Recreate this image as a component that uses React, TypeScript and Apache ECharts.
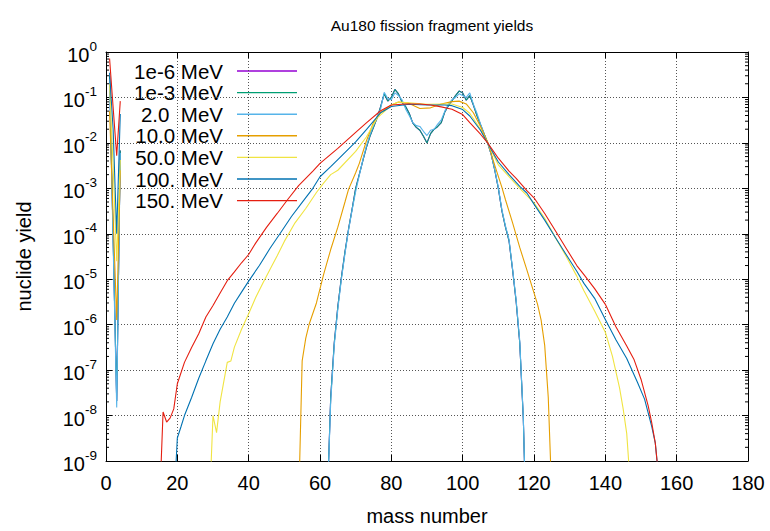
import React, { useEffect, useRef } from 'react';
import * as echarts from 'echarts';

const FONT = "'Liberation Sans', Arial, Helvetica, sans-serif";

const titleText = 'Au180 fission fragment yields';
const xName = 'mass number';
const yName = 'nuclide yield';
const legendNames = ['1e-6 MeV', '1e-3 MeV', '2.0  MeV', '10.0 MeV', '50.0 MeV', '100. MeV', '150. MeV'];
const colors = ['#9400d3', '#009e73', '#56b4e9', '#e69f00', '#f0e442', '#0072b2', '#e51e10'];

// light-particle part (A = 1..4) of each curve
const light1em3 = [[1, 0.3], [2, 8e-5], [3, 2.1e-8], [4, 6.8e-3]];
const light2 = [[1, 0.25], [2, 6e-5], [3, 1.5e-8], [4, 6e-3]];
const light10 = [[1, 0.05], [2, 2.5e-4], [3, 1.26e-6], [4, 2.5e-3]];
const light50 = [[1, 0.2], [2, 3e-3], [3, 2.5e-5], [4, 4.2e-3]];
const light100 = [[1, 0.35], [2, 0.02], [3, 1e-4], [4, 0.043]];
const light150 = [[1, 0.72], [2, 0.06], [3, 5.2e-3], [4, 0.083]];

// fission-fragment part of each curve
const frag1em3 = [[62, 1e-10], [63, 2.5e-8], [64, 4e-7], [65, 2.5e-6], [66, 1.1e-5], [67, 4e-5], [68, 1.26e-4], [69, 3.5e-4], [70, 1e-3], [71, 2e-3], [72, 4e-3], [73, 7.9e-3], [74, 0.014], [75, 0.022], [76, 0.035], [77, 0.063], [78, 0.12], [79, 0.083], [80, 0.1], [81, 0.15], [82, 0.12], [83, 0.079], [84, 0.063], [85, 0.045], [86, 0.0275], [87, 0.022], [88, 0.019], [89, 0.014], [90, 0.01], [91, 0.016], [92, 0.02], [93, 0.023], [94, 0.028], [95, 0.048], [96, 0.066], [97, 0.085], [98, 0.11], [99, 0.138], [100, 0.126], [101, 0.087], [102, 0.11], [103, 0.068], [104, 0.04], [105, 0.025], [106, 0.016], [107, 0.01], [108, 5.6e-3], [109, 2.5e-3], [110, 1e-3], [111, 3.2e-4], [112, 1.4e-4], [113, 7e-5], [114, 1.6e-5], [115, 3.2e-6], [116, 4e-7], [117, 8.7e-9], [118, 1e-11]];
const frag2 = [[62, 1e-10], [63, 2e-8], [64, 3.5e-7], [65, 2.2e-6], [66, 1e-5], [67, 3.6e-5], [68, 1.2e-4], [69, 3.3e-4], [70, 8.5e-4], [71, 1.9e-3], [72, 4.2e-3], [73, 8.5e-3], [74, 0.015], [75, 0.024], [76, 0.038], [77, 0.056], [78, 0.13], [79, 0.095], [80, 0.089], [81, 0.126], [82, 0.11], [83, 0.089], [84, 0.056], [85, 0.04], [86, 0.028], [87, 0.024], [88, 0.023], [89, 0.018], [90, 0.0145], [91, 0.019], [92, 0.02], [93, 0.026], [94, 0.032], [95, 0.05], [96, 0.071], [97, 0.089], [98, 0.1], [99, 0.12], [100, 0.11], [101, 0.1], [102, 0.126], [103, 0.071], [104, 0.045], [105, 0.026], [106, 0.016], [107, 0.01], [108, 5.6e-3], [109, 2.6e-3], [110, 1.05e-3], [111, 3.4e-4], [112, 1.5e-4], [113, 7.5e-5], [114, 1.7e-5], [115, 3.5e-6], [116, 4.5e-7], [117, 9.5e-9], [118, 1e-11]];
const frag10 = [[54, 1e-10], [55, 1.6e-7], [56, 5e-7], [57, 1.05e-6], [59, 3e-6], [61, 1.26e-5], [63, 4.5e-5], [65, 1.4e-4], [67, 5e-4], [68, 9.5e-4], [70, 2.2e-3], [71, 3.5e-3], [73, 0.011], [75, 0.028], [77, 0.047], [80, 0.068], [82, 0.079], [85, 0.074], [88, 0.057], [91, 0.059], [94, 0.072], [97, 0.081], [99, 0.083], [101, 0.072], [103, 0.046], [105, 0.023], [107, 0.0105], [109, 3.2e-3], [111, 1.05e-3], [112, 5.6e-4], [114, 1.74e-4], [116, 5e-5], [118, 1.6e-5], [120, 5e-6], [121, 2.8e-6], [122, 1.26e-6], [123, 3.5e-7], [124, 2.5e-8], [125, 1.6e-10]];
const frag50 = [[29, 1e-10], [30, 1e-8], [31, 4.2e-9], [32, 2e-8], [34, 1.48e-7], [35, 1.58e-7], [36, 3.2e-7], [38, 7.9e-7], [40, 1.74e-6], [42, 4e-6], [44, 8.3e-6], [46, 1.66e-5], [48, 3.3e-5], [50, 6.8e-5], [53, 1.74e-4], [56, 3.6e-4], [59, 8.1e-4], [61, 1.3e-3], [63, 2e-3], [65, 2.5e-3], [70, 6.5e-3], [73, 0.0135], [76, 0.035], [80, 0.068], [82, 0.079], [85, 0.076], [90, 0.071], [95, 0.072], [97, 0.072], [100, 0.06], [102, 0.045], [105, 0.02], [107, 9.8e-3], [110, 3.3e-3], [113, 1.8e-3], [116, 1e-3], [120, 4.8e-4], [123, 2.2e-4], [126, 8.3e-5], [129, 3.2e-5], [132, 1.17e-5], [134, 5.6e-6], [137, 2e-6], [140, 6.8e-7], [142, 2e-7], [144, 4e-8], [145, 1.4e-8], [146, 4e-9], [147, 3e-10]];
const frag100 = [[19, 1e-10], [20, 3.2e-9], [21, 5.6e-9], [22, 1e-8], [24, 2.5e-8], [26, 6.6e-8], [28, 1.6e-7], [30, 3.8e-7], [32, 7.9e-7], [34, 1.48e-6], [36, 2.95e-6], [38, 5.2e-6], [40, 9.1e-6], [43, 2e-5], [46, 4.8e-5], [49, 1.07e-4], [52, 2.4e-4], [55, 4.9e-4], [58, 1e-3], [60, 1.8e-3], [63, 3e-3], [65, 4.3e-3], [70, 0.0105], [73, 0.0195], [77, 0.046], [80, 0.063], [85, 0.071], [90, 0.068], [95, 0.068], [97, 0.066], [100, 0.054], [102, 0.039], [105, 0.019], [107, 9.8e-3], [110, 3.8e-3], [113, 2e-3], [116, 1.1e-3], [118, 7.9e-4], [120, 4.5e-4], [123, 2e-4], [126, 8.3e-5], [129, 3.5e-5], [132, 1.5e-5], [134, 8.1e-6], [137, 3.8e-6], [140, 1.3e-6], [143, 4.6e-7], [146, 1.8e-7], [149, 5.4e-8], [151, 2.3e-8], [153, 5.8e-9], [154, 2.5e-9], [155, 4e-10]];
const frag150 = [[15, 1e-10], [16, 1.2e-8], [17, 7.2e-9], [18, 8.9e-9], [19, 1.4e-8], [20, 5e-8], [22, 1.48e-7], [24, 3.16e-7], [26, 6.3e-7], [28, 1.48e-6], [30, 2.63e-6], [32, 5e-6], [34, 9.3e-6], [36, 1.45e-5], [38, 2.3e-5], [40, 3.5e-5], [42, 6.3e-5], [45, 1.38e-4], [48, 2.8e-4], [51, 5.75e-4], [54, 1.15e-3], [58, 2.4e-3], [60, 3.55e-3], [65, 7.6e-3], [70, 0.017], [73, 0.0275], [77, 0.051], [80, 0.068], [84, 0.072], [88, 0.072], [91, 0.068], [94, 0.062], [97, 0.055], [100, 0.042], [102, 0.028], [105, 0.0155], [107, 0.01], [110, 4.6e-3], [113, 2.4e-3], [115, 1.66e-3], [118, 8.9e-4], [120, 6.2e-4], [123, 2.8e-4], [126, 1.17e-4], [129, 4.8e-5], [132, 2e-5], [134, 1.26e-5], [137, 6.2e-6], [140, 2.8e-6], [143, 8.9e-7], [146, 3.4e-7], [148, 1.74e-7], [150, 6.3e-8], [152, 1.66e-8], [153, 7e-9], [154, 2.5e-9], [155, 4e-10]];

// the 1e-6 MeV curve coincides with the 1e-3 MeV curve in the picture
const light1em6 = light1em3;
const frag1em6 = frag1em3;

const lightParts = [light1em6, light1em3, light2, light10, light50, light100, light150];
const fragParts = [frag1em6, frag1em3, frag2, frag10, frag50, frag100, frag150];

const X_MIN = 0, X_MAX = 180, X_STEP = 20;
const Y_MIN = 1e-9, Y_MAX = 1;

export default function App() {
  const ref = useRef<HTMLDivElement>(null);
  useEffect(() => {
    document.body.style.margin = '0';
    const chart = echarts.init(ref.current!, undefined, { renderer: 'svg' });

    const minorTicks: number[][] = [];
    for (let d = -9; d < 0; d++) for (let k = 2; k <= 9; k++) minorTicks.push([0, k * Math.pow(10, d)]);

    const lineSeries = legendNames.map((name, i) => ({
      type: 'line',
      name,
      data: [...lightParts[i], [5, null], ...fragParts[i]],
      showSymbol: false,
      symbol: 'none',
      connectNulls: false,
      clip: true,
      lineStyle: { color: colors[i], width: 1.1 },
      itemStyle: { color: colors[i] },
      z: 3 + i,
    }));

    const legendGraphic = legendNames.map((name, i) => ({
      type: 'group',
      children: [
        {
          type: 'text', x: 223, y: 71 + 21.6 * i,
          style: { text: name, align: 'right', verticalAlign: 'middle', fontSize: 20.5, fontFamily: FONT, fill: '#000' },
        },
        {
          type: 'line', shape: { x1: 237, y1: 71 + 21.6 * i, x2: 297, y2: 71 + 21.6 * i },
          style: { stroke: colors[i], lineWidth: 1.4 },
        },
      ],
    }));

    chart.setOption({
      animation: false,
      backgroundColor: '#fff',
      title: {
        text: titleText, left: 427, top: 12, textAlign: 'center',
        textStyle: { fontSize: 15.5, fontWeight: 'normal', color: '#000', fontFamily: FONT },
      },
      grid: { left: 106, right: 22, top: 52, bottom: 64.5, containLabel: false },
      xAxis: [
        {
          type: 'value', min: X_MIN, max: X_MAX, interval: X_STEP,
          name: xName, nameLocation: 'middle', nameGap: 45,
          nameTextStyle: { fontSize: 20, color: '#000', fontFamily: FONT },
          axisLine: { show: true, onZero: false, lineStyle: { color: '#000', width: 1 } },
          axisTick: { show: true, inside: true, length: 6, lineStyle: { color: '#000' } },
          axisLabel: { fontSize: 20, color: '#000', fontFamily: FONT, margin: 12 },
          splitLine: { show: true, lineStyle: { color: '#555', type: [1, 2], width: 1 } },
        },
        {
          type: 'value', min: X_MIN, max: X_MAX, interval: X_STEP, position: 'top',
          axisLine: { show: true, onZero: false, lineStyle: { color: '#000', width: 1 } },
          axisTick: { show: true, inside: true, length: 6, lineStyle: { color: '#000' } },
          axisLabel: { show: false }, splitLine: { show: false },
        },
      ],
      yAxis: [
        {
          type: 'log', logBase: 10, min: Y_MIN, max: Y_MAX, splitNumber: 9,
          name: yName, nameLocation: 'middle', nameGap: 72,
          nameTextStyle: { fontSize: 20, color: '#000', fontFamily: FONT },
          axisLine: { show: true, onZero: false, lineStyle: { color: '#000', width: 1 } },
          axisTick: { show: true, inside: true, length: 6, lineStyle: { color: '#000' } },
          axisLabel: {
            margin: 9,
            formatter: (v: number) => `{b|10}{s|${Math.round(Math.log10(v))}}`,
            rich: {
              b: { fontSize: 20, color: '#000', fontFamily: FONT, lineHeight: 26, verticalAlign: 'bottom' },
              s: { fontSize: 13.5, color: '#000', fontFamily: FONT, lineHeight: 26, verticalAlign: 'top' },
            },
          },
          splitLine: { show: true, lineStyle: { color: '#555', type: [1, 2], width: 1 } },
        },
        {
          type: 'log', logBase: 10, min: Y_MIN, max: Y_MAX, splitNumber: 9, position: 'right',
          axisLine: { show: true, onZero: false, lineStyle: { color: '#000', width: 1 } },
          axisTick: { show: true, inside: true, length: 6, lineStyle: { color: '#000' } },
          axisLabel: { show: false }, splitLine: { show: false },
        },
      ],
      series: [
        ...lineSeries,
        {
          type: 'custom', silent: true, clip: false, z: 20,
          encode: { x: 0, y: 1 },
          data: minorTicks,
          renderItem: (_p: any, api: any) => {
            const v = api.value(1);
            const l = api.coord([X_MIN, v]);
            const r = api.coord([X_MAX, v]);
            return {
              type: 'group',
              children: [
                { type: 'line', shape: { x1: l[0], y1: l[1], x2: l[0] + 3, y2: l[1] }, style: { stroke: '#000', lineWidth: 1 } },
                { type: 'line', shape: { x1: r[0] - 3, y1: r[1], x2: r[0], y2: r[1] }, style: { stroke: '#000', lineWidth: 1 } },
              ],
            };
          },
        },
      ],
      graphic: legendGraphic,
    } as any);
    return () => chart.dispose();
  }, []);
  return <div ref={ref} style={{ position: 'absolute', left: 0, top: 0, width: 770, height: 531 }} />;
}
